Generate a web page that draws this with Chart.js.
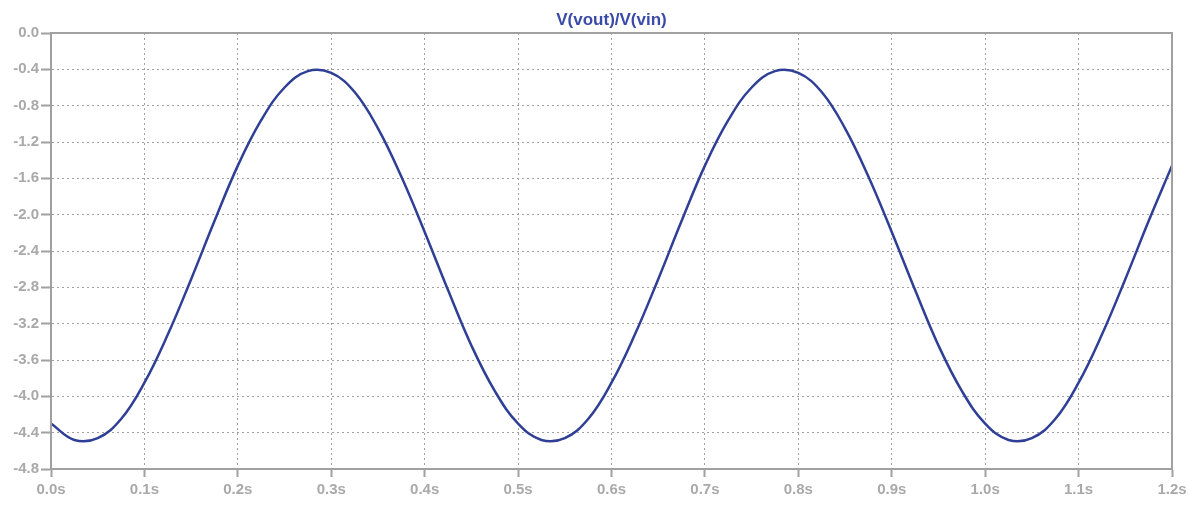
<!DOCTYPE html>
<html>
<head>
<meta charset="utf-8">
<script src="https://cdn.jsdelivr.net/npm/chart.js@4/dist/chart.umd.min.js"></script>
<style>
  html, body { margin: 0; padding: 0; background: #fff; }
  #wrap { width: 1200px; height: 517px; }
</style>
</head>
<body>
<div id="wrap"><canvas id="gainChart"></canvas></div>
<script>
// time points (s) and V(vout)/V(vin)
const times = [
  0.000, 0.025, 0.050, 0.075, 0.100, 0.125, 0.150, 0.175, 0.200, 0.225,
  0.250, 0.275, 0.300, 0.325, 0.350, 0.375, 0.400, 0.425, 0.450, 0.475,
  0.500, 0.525, 0.550, 0.575, 0.600, 0.625, 0.650, 0.675, 0.700, 0.725,
  0.750, 0.775, 0.800, 0.825, 0.850, 0.875, 0.900, 0.925, 0.950, 0.975,
  1.000, 1.025, 1.050, 1.075, 1.100, 1.125, 1.150, 1.175, 1.200
];
const ratio = [
  -4.30, -4.48, -4.46, -4.25, -3.85, -3.32, -2.71, -2.07, -1.46, -0.96,
  -0.60, -0.42, -0.44, -0.65, -1.05, -1.58, -2.19, -2.83, -3.44, -3.94,
  -4.30, -4.48, -4.46, -4.25, -3.85, -3.32, -2.71, -2.07, -1.46, -0.96,
  -0.60, -0.42, -0.44, -0.65, -1.05, -1.58, -2.19, -2.83, -3.44, -3.94,
  -4.30, -4.48, -4.46, -4.25, -3.85, -3.32, -2.71, -2.07, -1.46
];
const traceName = 'V(vout)/V(vin)';

const gridGray = '#a0a0a0';
const labelGray = '#a9a9a9';
const labelFont = { family: 'Liberation Sans, Arial, sans-serif', size: 15, weight: 'bold' };

// box around the plot area, title centred over the plot area
const frame = {
  id: 'frame',
  afterLayout(chart) {
    if (chart.titleBlock) {
      chart.titleBlock.left = chart.chartArea.left;
      chart.titleBlock.right = chart.chartArea.right;
    }
  },
  afterDraw(chart) {
    const a = chart.chartArea, c = chart.ctx;
    c.save();
    c.strokeStyle = gridGray;
    c.lineWidth = 2;
    c.strokeRect(a.left, a.top, a.right - a.left, a.bottom - a.top);
    c.restore();
  }
};

const ctx = document.getElementById('gainChart').getContext('2d');
new Chart(ctx, {
  type: 'line',
  data: {
    datasets: [{
      label: traceName,
      data: times.map((t, i) => ({ x: t, y: ratio[i] })),
      borderColor: '#2f3f96',
      borderWidth: 2.5,
      pointRadius: 0,
      tension: 0.4,
      fill: false
    }]
  },
  options: {
    responsive: true,
    maintainAspectRatio: false,
    animation: false,
    layout: { padding: { left: 0, right: 28, top: 0, bottom: 0 } },
    plugins: {
      legend: { display: false },
      tooltip: { enabled: false },
      title: {
        display: true,
        text: traceName,
        color: '#3a4aa8',
        font: { family: 'Liberation Sans, Arial, sans-serif', size: 17, weight: 'bold' },
        padding: { top: 10, bottom: 2.6 }
      }
    },
    scales: {
      x: {
        type: 'linear',
        min: 0,
        max: 1.2,
        ticks: {
          stepSize: 0.1,
          color: labelGray,
          padding: 4,
          maxRotation: 0,
          font: labelFont,
          callback: v => v.toFixed(1) + 's'
        },
        grid: { color: gridGray, lineWidth: 1, tickLength: 8, tickWidth: 2, tickBorderDash: [] },
        border: { color: gridGray, width: 2, dash: [2, 3] },
        afterFit: s => { s.height = 48; }
      },
      y: {
        min: -4.8,
        max: 0,
        ticks: {
          stepSize: 0.4,
          color: labelGray,
          padding: 2,
          font: labelFont,
          callback: v => (Math.abs(v) < 1e-9 ? 0 : v).toFixed(1)
        },
        grid: { color: gridGray, lineWidth: 1, tickLength: 10, tickWidth: 2, tickBorderDash: [] },
        border: { color: gridGray, width: 2, dash: [2, 3] },
        afterFit: s => { s.width = 51; }
      }
    }
  },
  plugins: [frame]
});
</script>
</body>
</html>
